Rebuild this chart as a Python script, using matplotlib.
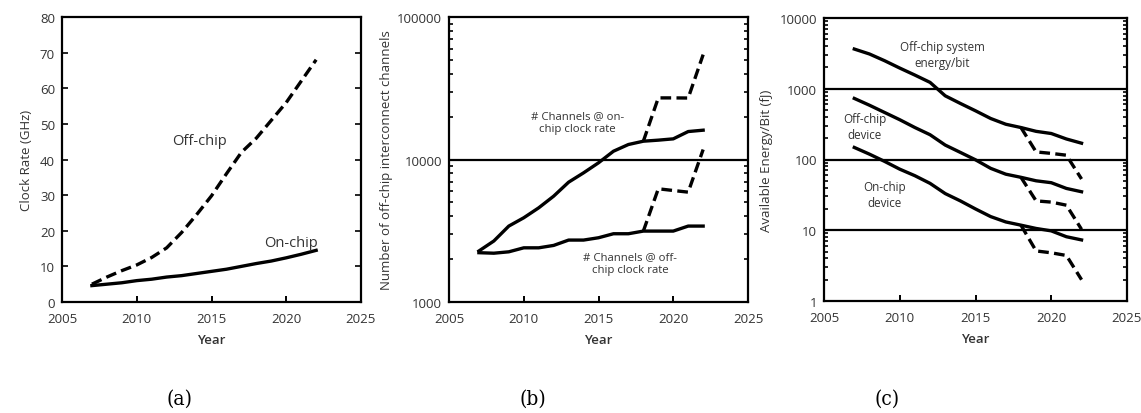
import matplotlib
matplotlib.use("Agg")
import matplotlib.pyplot as plt
from matplotlib.ticker import FuncFormatter, LogLocator, FixedLocator, NullFormatter

# ---------------- data ----------------
years = [2007, 2008, 2009, 2010, 2011, 2012, 2013, 2014, 2015, 2016, 2017, 2018, 2019, 2020, 2021, 2022]
years_ext = [2018, 2019, 2020, 2021, 2022]

# (a) clock rate, GHz
offchip_clock = [5, 7, 8.8, 10.4, 12.5, 15.2, 19.5, 24.5, 29.8, 36, 42, 46, 51, 56, 62, 68]
onchip_clock = [4.6, 5.0, 5.4, 6.0, 6.4, 7.0, 7.4, 8.0, 8.6, 9.2, 10.0, 10.8, 11.5, 12.4, 13.4, 14.5]

# (b) number of off-chip interconnect channels
ch_onchip = [2280, 2680, 3410, 3900, 4580, 5530, 6930, 8060, 9480, 11430, 12740, 13440, 13670, 13960, 15710, 16060]
ch_onchip_ext = [13440, 27060, 27060, 27000, 54450]
ch_offchip = [2218, 2200, 2250, 2400, 2400, 2495, 2720, 2720, 2824, 3013, 3013, 3145, 3145, 3145, 3410, 3410]
ch_offchip_ext = [3145, 6230, 6060, 5900, 11750]

# (c) available energy / bit, fJ
e_system = [3640, 3100, 2490, 1960, 1560, 1230, 795, 620, 488, 380, 315, 283, 250, 233, 195, 170]
e_system_ext = [283, 128, 122, 115, 53]
e_offdev = [730, 585, 462, 365, 283, 224, 160, 126, 99, 75, 62, 56, 50, 47, 39, 35]
e_offdev_ext = [56, 26, 25, 22.6, 10.3]
e_ondev = [148, 119, 94, 73, 59, 46, 33, 26, 20, 15.6, 13.1, 11.8, 10.6, 9.8, 8.1, 7.3]
e_ondev_ext = [11.8, 5.1, 4.8, 4.4, 2.0]

xticks = [2005, 2010, 2015, 2020, 2025]
panel_labels = ["(a)", "(b)", "(c)"]

# ---------------- style ----------------
plt.rcParams['font.family'] = ['Open Sans', 'DejaVu Sans']
TXT = '#333333'
LW = 2.4
DASH = (0, (3.2, 1.6))
FS = 9.5

W, H = 1141, 414
fig = plt.figure(figsize=(W / 100, H / 100), dpi=100)


def px_axes(l, r, t, b):
    return fig.add_axes([l / W, 1 - b / H, (r - l) / W, (b - t) / H])


def style(ax):
    for s in ax.spines.values():
        s.set_linewidth(1.6)
        s.set_color('black')
    ax.set_xlim(2005, 2025)
    ax.xaxis.set_major_locator(FixedLocator(xticks))
    ax.tick_params(axis='x', direction='in', length=4, width=1.4, labelsize=FS,
                   labelcolor=TXT, pad=7, top=False)
    ax.tick_params(axis='y', which='both', direction='in', width=1.2, labelsize=FS,
                   labelcolor=TXT, left=True, right=True, pad=5)
    ax.tick_params(axis='y', which='major', length=4)
    ax.tick_params(axis='y', which='minor', length=3)
    ax.set_xlabel('Year', fontsize=FS, color=TXT, labelpad=6, fontweight='semibold')


# (a)
axa = px_axes(62, 361, 18, 303)
axa.plot(years, offchip_clock, color='black', lw=LW, linestyle=DASH)
axa.plot(years, onchip_clock, color='black', lw=LW)
axa.set_ylim(0, 80)
axa.set_yticks(range(0, 81, 10))
style(axa)
axa.set_ylabel('Clock Rate (GHz)', fontsize=FS, color=TXT, labelpad=5)
axa.text(2014.2, 45.2, 'Off-chip', fontsize=10.5, color=TXT, ha='center', va='center')
axa.text(2020.3, 16.8, 'On-chip', fontsize=10.5, color=TXT, ha='center', va='center')

# (b)
axb = px_axes(449, 748, 18, 303)
axb.set_yscale('log')
axb.plot(years_ext, ch_onchip_ext, color='black', lw=LW, linestyle=DASH)
axb.plot(years_ext, ch_offchip_ext, color='black', lw=LW, linestyle=DASH)
axb.plot(years, ch_onchip, color='black', lw=LW)
axb.plot(years, ch_offchip, color='black', lw=LW)
axb.set_ylim(1000, 100000)
axb.yaxis.set_major_locator(FixedLocator([1000, 10000, 100000]))
axb.yaxis.set_major_formatter(FuncFormatter(lambda v, p: f'{int(round(v))}'))
axb.yaxis.set_minor_locator(LogLocator(base=10, subs=range(2, 10)))
axb.yaxis.set_minor_formatter(NullFormatter())
axb.axhline(10000, color='black', lw=1.6)
style(axb)
axb.set_ylabel('Number of off-chip interconnect channels', fontsize=FS, color=TXT, labelpad=3)
axb.text(2013.6, 18300, '# Channels @ on-\nchip clock rate', fontsize=8.2, color=TXT,
         ha='center', va='center', linespacing=1.3)
axb.text(2017.1, 1878, '# Channels @ off-\nchip clock rate', fontsize=8.2, color=TXT,
         ha='center', va='center', linespacing=1.3)

# (c)
axc = px_axes(824, 1127, 19, 302)
axc.set_yscale('log')
for ext in (e_system_ext, e_offdev_ext, e_ondev_ext):
    axc.plot(years_ext, ext, color='black', lw=LW, linestyle=DASH)
for ser in (e_system, e_offdev, e_ondev):
    axc.plot(years, ser, color='black', lw=LW)
axc.set_ylim(1, 10000)
axc.yaxis.set_major_locator(FixedLocator([1, 10, 100, 1000, 10000]))
axc.yaxis.set_major_formatter(FuncFormatter(lambda v, p: f'{int(round(v))}'))
axc.yaxis.set_minor_locator(LogLocator(base=10, subs=range(2, 10)))
axc.yaxis.set_minor_formatter(NullFormatter())
for g in (10, 100, 1000):
    axc.axhline(g, color='black', lw=1.6)
style(axc)
axc.set_ylabel('Available Energy/Bit (fJ)', fontsize=FS, color=TXT, labelpad=5)
axc.text(2012.8, 3000, 'Off-chip system\nenergy/bit', fontsize=8.4, color=TXT,
         ha='center', va='center', linespacing=1.3)
axc.text(2007.7, 288, 'Off-chip\ndevice', fontsize=8.4, color=TXT,
         ha='center', va='center', linespacing=1.3)
axc.text(2009.0, 32.5, 'On-chip\ndevice', fontsize=8.4, color=TXT,
         ha='center', va='center', linespacing=1.3)

# panel labels
for lab, xc in zip(panel_labels, (180, 533, 887)):
    fig.text(xc / W, 1 - 399 / H, lab, fontsize=15, ha='center', va='center',
             family=['DejaVu Serif'], fontstretch='condensed', color='black')

fig.savefig('out.png', dpi=100)
